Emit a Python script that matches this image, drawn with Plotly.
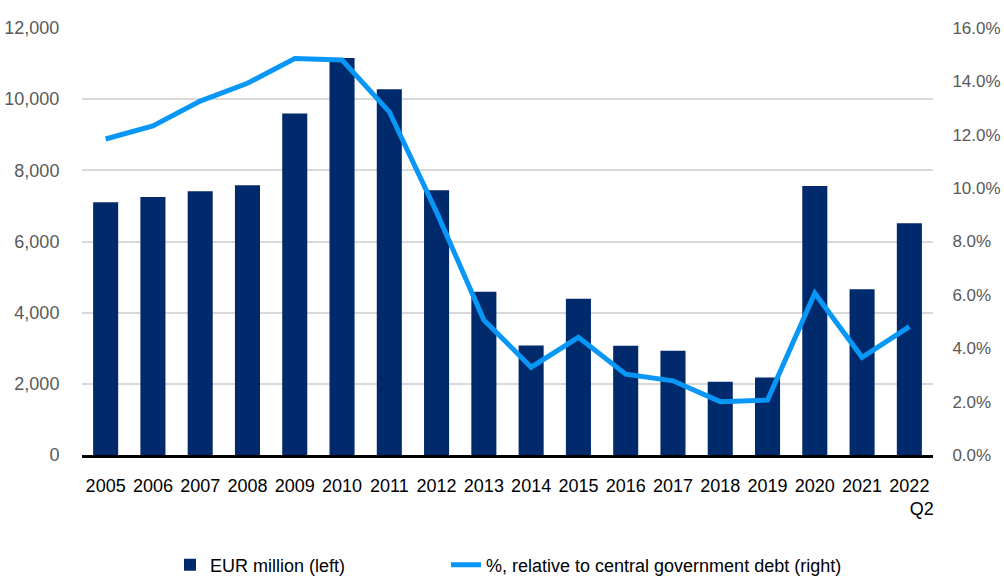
import plotly.graph_objects as go

# Annual values, 2005 to 2022 Q2
categories = ["2005", "2006", "2007", "2008", "2009", "2010", "2011", "2012", "2013",
              "2014", "2015", "2016", "2017", "2018", "2019", "2020", "2021", "2022 Q2"]
tick_text = ["2005", "2006", "2007", "2008", "2009", "2010", "2011", "2012", "2013",
             "2014", "2015", "2016", "2017", "2018", "2019", "2020", "2021",
             "2022<br>\u00a0\u00a0\u00a0\u00a0\u00a0Q2"]
eur_million = [7100, 7250, 7410, 7580, 9600, 11160, 10280, 7440, 4590,
               3080, 4390, 3070, 2930, 2060, 2180, 7560, 4660, 6510]
pct_of_debt = [11.84, 12.33, 13.26, 13.93, 14.86, 14.80, 12.86, 9.10, 5.06,
               3.29, 4.41, 3.03, 2.78, 2.00, 2.06, 6.06, 3.66, 4.81]

FONT = "Liberation Sans, Arial, sans-serif"
NAVY = "#002a6b"
BLUE = "#0897f7"
TICK_SIZE = 18

fig = go.Figure()
fig.add_trace(go.Bar(
    x=categories, y=eur_million, name="EUR million (left)",
    marker=dict(color=NAVY, line=dict(width=0)),
    yaxis="y", legend="legend",
))
fig.add_trace(go.Scatter(
    x=categories, y=pct_of_debt, name="%, relative to central government debt (right)",
    mode="lines", line=dict(color=BLUE, width=5),
    yaxis="y2", legend="legend2",
))

legend_common = dict(
    orientation="h", xanchor="left", xref="container",
    y=0.0225, yanchor="middle", yref="container",
    font=dict(family=FONT, size=18, color="#000000"),
    bgcolor="rgba(0,0,0,0)",
)

fig.update_layout(
    width=1004, height=578,
    margin=dict(l=82, r=71, t=28, b=123, autoexpand=False),
    paper_bgcolor="white", plot_bgcolor="white",
    font=dict(family=FONT, size=18, color="#000000"),
    bargap=0.47,
    showlegend=True,
    legend=dict(x=170 / 1004, **legend_common),
    legend2=dict(x=446 / 1004, **legend_common),
    xaxis=dict(
        tickmode="array", tickvals=categories, ticktext=tick_text,
        tickangle=0, automargin=False,
        showline=True, linecolor="#000000", linewidth=3,
        ticks="outside", ticklen=12, tickcolor="rgba(0,0,0,0)",
        showgrid=False, zeroline=False,
        tickfont=dict(family=FONT, size=TICK_SIZE, color="#000000"),
    ),
    yaxis=dict(
        range=[0, 12000], dtick=2000, tickformat=",", automargin=False,
        showgrid=True, gridcolor="#d9d9d9", gridwidth=1.5,
        zeroline=False,
        ticks="outside", ticklen=18, tickcolor="rgba(0,0,0,0)",
        tickfont=dict(family=FONT, size=TICK_SIZE, color="#595959"),
    ),
    yaxis2=dict(
        range=[0, 16], dtick=2, tickformat=".1f", ticksuffix="%", automargin=False,
        overlaying="y", side="right", showgrid=False, zeroline=False,
        ticks="outside", ticklen=15, tickcolor="rgba(0,0,0,0)",
        tickfont=dict(family=FONT, size=17, color="#595959"),
    ),
)

fig.write_html("out.html")
